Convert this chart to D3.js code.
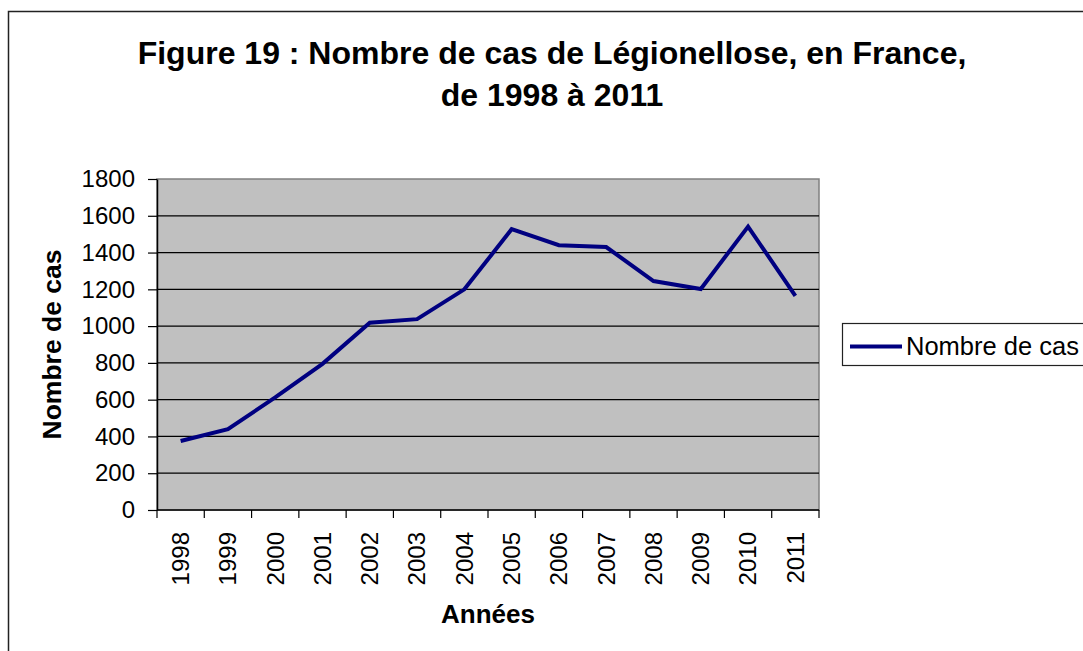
<!DOCTYPE html>
<html>
<head>
<meta charset="utf-8">
<script src="https://cdn.jsdelivr.net/npm/d3@7"></script>
<style>
  body { margin: 0; background: #fff; }
  svg { font-family: "Liberation Sans", Arial, sans-serif; }
</style>
</head>
<body>
<script>
let width = 1083
let height = 651

// data
let years = ["1998","1999","2000","2001","2002","2003","2004","2005","2006","2007","2008","2009","2010","2011"]
let cases = [375, 440, 612, 795, 1018, 1038, 1200, 1527, 1440, 1430, 1245, 1202, 1541, 1165]
let yTicks = [0, 200, 400, 600, 800, 1000, 1200, 1400, 1600, 1800]
let titleLines = ["Figure 19 : Nombre de cas de Légionellose, en France,", "de 1998 à 2011"]
let seriesName = "Nombre de cas"

let svg = d3.select("body")
    .append("svg")
    .attr("width", width)
    .attr("height", height)

// outer chart frame (cut off at right and bottom)
svg.append("rect")
    .attr("x", 8.5)
    .attr("y", 11.5)
    .attr("width", 1100)
    .attr("height", 700)
    .attr("fill", "#fff")
    .attr("stroke", "#222")
    .attr("stroke-width", 1.5)

let plot = {left: 157, top: 179, right: 819, bottom: 510}

let x = d3.scaleBand()
    .domain(years)
    .range([plot.left, plot.right])

let y = d3.scaleLinear()
    .domain([0, 1800])
    .range([plot.bottom, plot.top])

// plot background
svg.append("rect")
    .attr("x", plot.left)
    .attr("y", plot.top)
    .attr("width", plot.right - plot.left)
    .attr("height", plot.bottom - plot.top)
    .attr("fill", "#C0C0C0")
    .attr("stroke", "#808080")
    .attr("stroke-width", 1.5)

// gridlines
svg.append("g")
    .selectAll("line")
    .data(yTicks.filter(d => d > 0 && d < 1800))
    .enter()
    .append("line")
    .attr("x1", plot.left)
    .attr("x2", plot.right)
    .attr("y1", d => y(d))
    .attr("y2", d => y(d))
    .attr("stroke", "#000")
    .attr("stroke-width", 1.2)

// y axis
let yAxis = svg.append("g")
    .attr("transform", `translate(${plot.left},0)`)
    .call(d3.axisLeft(y).tickValues(yTicks).tickFormat(d3.format("d"))
        .tickSize(9).tickPadding(13).tickSizeOuter(0))
yAxis.select(".domain").attr("stroke", "#000").attr("stroke-width", 1.5)
yAxis.selectAll(".tick line").attr("stroke", "#000").attr("stroke-width", 1.2)
yAxis.selectAll("text")
    .attr("font-size", 24)
    .attr("fill", "#000")
    .attr("font-family", "Liberation Sans, Arial, sans-serif")

// x axis: ticks at category boundaries
let xAxis = svg.append("g")
    .attr("transform", `translate(0,${plot.bottom})`)
xAxis.append("line")
    .attr("x1", plot.left)
    .attr("x2", plot.right)
    .attr("stroke", "#000")
    .attr("stroke-width", 1.5)
xAxis.selectAll(".xtick")
    .data(years.concat(["end"]))
    .enter()
    .append("line")
    .attr("x1", (d, i) => plot.left + i * x.bandwidth())
    .attr("x2", (d, i) => plot.left + i * x.bandwidth())
    .attr("y1", 0)
    .attr("y2", 8)
    .attr("stroke", "#000")
    .attr("stroke-width", 1.2)
xAxis.selectAll("text")
    .data(years)
    .enter()
    .append("text")
    .attr("transform", d => `translate(${x(d) + x.bandwidth() / 2},22) rotate(-90)`)
    .attr("text-anchor", "end")
    .attr("dy", "0.35em")
    .attr("font-size", 24)
    .attr("fill", "#000")
    .text(d => d)

// line
let line = d3.line()
    .x((d, i) => x(years[i]) + x.bandwidth() / 2)
    .y(d => y(d))

svg.append("path")
    .datum(cases)
    .attr("d", line)
    .attr("fill", "none")
    .attr("stroke", "#000080")
    .attr("stroke-width", 4)
    .attr("stroke-linejoin", "miter")

// title
svg.append("g")
    .selectAll("text")
    .data(titleLines)
    .enter()
    .append("text")
    .attr("x", 552)
    .attr("y", (d, i) => 64 + i * 42)
    .attr("text-anchor", "middle")
    .attr("font-size", 32)
    .attr("font-weight", "bold")
    .attr("fill", "#000")
    .text(d => d)

// axis titles
svg.append("text")
    .attr("x", (plot.left + plot.right) / 2)
    .attr("y", 623)
    .attr("text-anchor", "middle")
    .attr("font-size", 26)
    .attr("font-weight", "bold")
    .text("Années")

svg.append("text")
    .attr("transform", `translate(61,${(plot.top + plot.bottom) / 2}) rotate(-90)`)
    .attr("text-anchor", "middle")
    .attr("font-size", 26.5)
    .attr("font-weight", "bold")
    .text("Nombre de cas")

// legend
let legend = svg.append("g")
    .attr("transform", "translate(842,323)")
legend.append("rect")
    .attr("x", 0.5)
    .attr("y", 0.5)
    .attr("width", 300)
    .attr("height", 42)
    .attr("fill", "#fff")
    .attr("stroke", "#222")
    .attr("stroke-width", 1.2)
legend.append("line")
    .attr("x1", 8)
    .attr("x2", 60)
    .attr("y1", 23.5)
    .attr("y2", 23.5)
    .attr("stroke", "#000080")
    .attr("stroke-width", 4)
legend.append("text")
    .attr("x", 64)
    .attr("y", 23.5)
    .attr("dy", "0.35em")
    .attr("font-size", 25.5)
    .text(seriesName)
</script>
</body>
</html>
